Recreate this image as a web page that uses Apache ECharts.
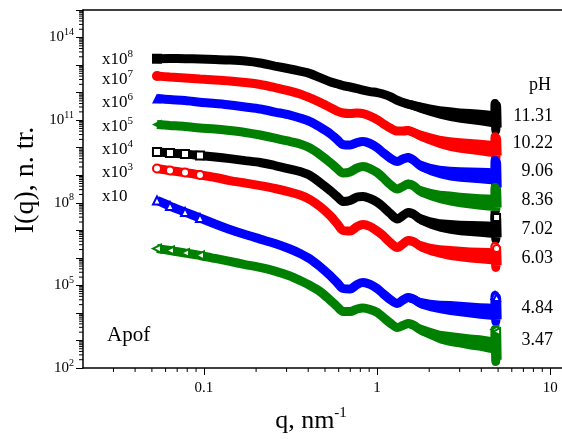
<!DOCTYPE html>
<html>
<head>
<meta charset="utf-8">
<script src="https://cdn.jsdelivr.net/npm/echarts@6/dist/echarts.min.js"></script>
<style>
  html, body { margin: 0; padding: 0; background: #ffffff; }
  #chart { width: 562px; height: 439px; }
</style>
</head>
<body>
<div id="chart"></div>
<script>
// Scattering vector q, nm^-1 (shared by all curves)
const qValues = [
  0.0535, 0.0636, 0.0777, 0.0948, 0.116, 0.141, 0.173, 0.211, 0.257, 0.314,
  0.359, 0.410, 0.468, 0.535, 0.587, 0.636, 0.698, 0.767, 0.830, 0.911,
  1.00, 1.08, 1.19, 1.31, 1.41, 1.51, 1.62, 1.77, 2.03, 2.31,
  2.64, 3.02, 3.45, 3.94, 4.38, 4.75, 4.80, 4.85, 4.90, 4.94
];

// Scaled intensities I(q) for each pH
const iPH1131 = [
  1.70e13, 1.72e13, 1.71e13, 1.66e13, 1.59e13, 1.52e13, 1.40e13, 1.19e13, 9.2e12, 7.2e12,
  6.0e12, 4.9e12, 3.5e12, 2.5e12, 2.1e12, 1.8e12, 1.6e12, 1.4e12, 1.24e12, 1.09e12,
  1.0e12, 8.9e11, 7.2e11, 5.2e11, 4.4e11, 3.8e11, 3.4e11, 2.9e11, 2.3e11, 1.9e11,
  1.67e11, 1.47e11, 1.36e11, 1.25e11, 1.15e11, 1.05e11, 4.0e11, 4.2e10, 3.4e11, 5.4e10
];
const iPH1022 = [
  4.0e12, 3.68e12, 3.39e12, 3.11e12, 2.86e12, 2.64e12, 2.32e12, 1.97e12, 1.53e12, 1.14e12,
  8.9e11, 6.4e11, 4.4e11, 2.9e11, 2.14e11, 1.82e11, 1.74e11, 1.82e11, 1.74e11, 1.41e11,
  1.05e11, 7.6e10, 5.2e10, 4.0e10, 4.0e10, 4.2e10, 3.6e10, 2.77e10, 2.07e10, 1.61e10,
  1.36e10, 1.20e10, 1.10e10, 1.01e10, 9.3e9, 8.9e9, 2.5e10, 3.7e9, 2.15e10, 5.2e9
];
const iPH906 = [
  6.1e11, 5.6e11, 5.2e11, 4.5e11, 4.0e11, 3.54e11, 3.0e11, 2.54e11, 1.97e11, 1.53e11,
  1.19e11, 8.9e10, 5.6e10, 3.27e10, 1.98e10, 1.30e10, 1.25e10, 1.54e10, 1.67e10, 1.42e10,
  1.01e10, 6.7e9, 4.2e9, 3.15e9, 3.9e9, 4.4e9, 3.56e9, 2.25e9, 1.61e9, 1.31e9,
  1.15e9, 1.06e9, 1.02e9, 9.8e8, 9.4e8, 9.0e8, 3.4e9, 3.0e8, 2.9e9, 3.6e8
];
const iPH836 = [
  6.9e10, 6.4e10, 5.9e10, 5.2e10, 4.8e10, 4.2e10, 3.56e10, 2.88e10, 2.24e10, 1.67e10,
  1.36e10, 9.7e9, 5.6e9, 2.9e9, 1.75e9, 1.20e9, 1.31e9, 1.83e9, 2.07e9, 1.75e9,
  1.25e9, 8.3e8, 4.6e8, 3.16e8, 3.9e8, 4.8e8, 4.2e8, 2.67e8, 2.0e8, 1.62e8,
  1.43e8, 1.26e8, 1.16e8, 1.06e8, 1.02e8, 9.8e7, 3.6e8, 5.7e7, 3.0e8, 6.7e7
];
const iPH702 = [
  7.0e9, 6.4e9, 5.9e9, 5.2e9, 4.6e9, 4.0e9, 3.4e9, 2.9e9, 2.25e9, 1.68e9,
  1.36e9, 9.8e8, 5.4e8, 2.8e8, 1.69e8, 1.11e8, 1.21e8, 1.62e8, 1.69e8, 1.43e8,
  1.06e8, 7.3e7, 4.1e7, 2.57e7, 3.44e7, 4.4e7, 3.9e7, 2.57e7, 1.84e7, 1.49e7,
  1.32e7, 1.21e7, 1.16e7, 1.11e7, 1.07e7, 1.03e7, 3.44e7, 4.6e6, 2.9e7, 5.5e6
];
const iPH603 = [
  1.75e9, 1.48e9, 1.25e9, 1.02e9, 8.3e8, 6.4e8, 5.2e8, 4.2e8, 3.3e8, 2.45e8,
  1.91e8, 1.31e8, 7.3e7, 3.44e7, 1.77e7, 9.8e6, 9.4e6, 1.37e7, 1.62e7, 1.37e7,
  9.4e6, 6.5e6, 3.6e6, 2.37e6, 3.2e6, 4.3e6, 3.9e6, 2.7e6, 2.0e6, 1.70e6,
  1.50e6, 1.38e6, 1.27e6, 1.22e6, 1.16e6, 1.12e6, 2.58e6, 4.5e5, 2.18e6, 5.3e5
];
const iPH484 = [
  1.21e8, 7.6e7, 4.6e7, 2.79e7, 1.69e7, 1.07e7, 7.0e6, 4.8e6, 3.3e6, 2.09e6,
  1.44e6, 9.1e5, 4.8e5, 2.28e5, 1.27e5, 7.7e4, 7.4e4, 1.08e5, 1.27e5, 1.08e5,
  7.7e4, 5.1e4, 3.07e4, 2.2e4, 2.94e4, 3.6e4, 3.2e4, 2.29e4, 1.86e4, 1.64e4,
  1.51e4, 1.39e4, 1.28e4, 1.17e4, 1.12e4, 1.08e4, 4.3e4, 4.9e3, 3.6e4, 5.8e3
];
const iPH347 = [
  2.18e6, 1.85e6, 1.50e6, 1.22e6, 9.5e5, 7.4e5, 5.7e5, 4.5e5, 3.3e5, 2.19e5,
  1.50e5, 9.9e4, 6.0e4, 2.94e4, 1.71e4, 1.12e4, 1.12e4, 1.39e4, 1.51e4, 1.33e4,
  1.04e4, 7.1e3, 4.3e3, 2.95e3, 3.5e3, 4.1e3, 3.6e3, 2.5e3, 1.79e3, 1.33e3,
  1.13e3, 1.0e3, 8.8e2, 8.1e2, 7.1e2, 6.6e2, 2.5e3, 1.72e2, 2.1e3, 2.0e2
];

// Half-width of the point scatter at high q, in decades of I (null = negligible)
const scatterHalfWidth = [
  null, null, null, null, null, null, null, null, null, null,
  null, null, null, null, null, null, null, null, null, null,
  null, null, null, null, 0.15, 0.16, 0.17, 0.19, 0.21, 0.23,
  0.25, 0.26, 0.27, 0.28, 0.29, 0.29
];

// Labels
const phLabels = ['11.31', '10.22', '9.06', '8.36', '7.02', '6.03', '4.84', '3.47'];
const scaleExponents = ['8', '7', '6', '5', '4', '3', ''];
const sampleName = 'Apof';

// ---- styling / layout ----
const SERIF = '"Liberation Serif", "Times New Roman", serif';
const X_MIN = 0.02, X_MAX = 11.7, Y_MIN = 1e2, Y_MAX = 1e15;

const curveStyles = [
  { data: iPH1131, color: '#000000', symbol: 'rect',     rotate: 0,  open: false },
  { data: iPH1022, color: '#ff0000', symbol: 'circle',   rotate: 0,  open: false },
  { data: iPH906,  color: '#0000ff', symbol: 'triangle', rotate: 0,  open: false },
  { data: iPH836,  color: '#008000', symbol: 'triangle', rotate: 90, open: false },
  { data: iPH702,  color: '#000000', symbol: 'rect',     rotate: 0,  open: true },
  { data: iPH603,  color: '#ff0000', symbol: 'circle',   rotate: 0,  open: true },
  { data: iPH484,  color: '#0000ff', symbol: 'triangle', rotate: 0,  open: true },
  { data: iPH347,  color: '#008000', symbol: 'triangle', rotate: 90, open: true }
];

const scaleLabelY = [60, 80, 103, 127, 150, 173, 197];
const phLabelY = [116, 143.5, 171, 200, 229.5, 258, 308.5, 340];

function emptyName(sym) {
  return 'empty' + sym.charAt(0).toUpperCase() + sym.slice(1);
}

function curveSeries(st, i) {
  const n = st.data.length;
  const data = st.data.map(function (v, k) {
    const item = { value: [qValues[k], v] };
    if (st.open) {
      // hollow markers stay visible only where the band is sparse
      if (k < 4) { item.symbol = emptyName(st.symbol); }
      else if (k === n - 4 || k === n - 2) { item.symbol = emptyName(st.symbol); item.symbolSize = 7; }
      else { item.symbol = 'none'; }
    } else if (k > 0) {
      item.symbol = 'none';
    }
    return item;
  });
  return {
    name: phLabels[i],
    type: 'line',
    data: data,
    smooth: 0.3,
    symbol: st.symbol,
    symbolRotate: st.rotate,
    symbolSize: st.open ? 8 : 10,
    showAllSymbol: true,
    color: st.color,
    itemStyle: { color: st.color, borderColor: st.color, borderWidth: st.open ? 1.2 : 0 },
    lineStyle: { color: st.color, width: 9 },
    z: 3
  };
}

// widened band where the measured points scatter
function scatterSeries(st) {
  return {
    type: 'custom',
    silent: true,
    z: 2,
    clip: true,
    data: [[qValues[30], st.data[30]]],
    renderItem: function (params, api) {
      const upper = [], lower = [];
      for (let k = 0; k < scatterHalfWidth.length; k++) {
        const s = scatterHalfWidth[k];
        if (s == null) continue;
        const f = Math.pow(10, s);
        upper.push(api.coord([qValues[k], st.data[k] * f]));
        lower.push(api.coord([qValues[k], st.data[k] / f]));
      }
      return {
        type: 'polygon',
        shape: { points: upper.concat(lower.reverse()) },
        style: { fill: st.color }
      };
    }
  };
}

// minor ticks at 2..9 x 10^n
function minorValues(lo, hi) {
  const out = [];
  for (let e = Math.floor(Math.log10(lo)); e <= Math.ceil(Math.log10(hi)); e++) {
    for (let m = 2; m <= 9; m++) {
      const v = +(m * Math.pow(10, e)).toPrecision(3);
      if (v > lo * 1.0001 && v < hi * 0.9999) out.push(v);
    }
  }
  return out;
}

function tickSeries(points, dir, len) {
  return {
    type: 'custom',
    silent: true,
    clip: false,
    z: 6,
    data: points,
    renderItem: function (params, api) {
      const p = api.coord([api.value(0), api.value(1)]);
      const shape = dir === 'x'
        ? { x1: p[0], y1: p[1], x2: p[0], y2: p[1] + len }
        : { x1: p[0] - len, y1: p[1], x2: p[0], y2: p[1] };
      return { type: 'line', shape: shape, style: { stroke: '#000', lineWidth: 1 } };
    }
  };
}

const xMinor = minorValues(X_MIN, X_MAX).map(function (v) { return [v, Y_MIN]; });
const yMinor = minorValues(Y_MIN, Y_MAX).map(function (v) { return [X_MIN, v]; });

const graphics = [];
// axis titles
graphics.push({
  type: 'text', x: 26, y: 180, rotation: Math.PI / 2,
  style: { text: 'I(q), n. tr.', font: '28px ' + SERIF, fill: '#000', align: 'center', verticalAlign: 'middle' }
});
graphics.push({
  type: 'text', x: 311, y: 421,
  style: {
    text: 'q, nm{s|-1}', font: '26px ' + SERIF, fill: '#000', align: 'center', verticalAlign: 'middle',
    lineHeight: 30,
    rich: { s: { font: '15px ' + SERIF, fill: '#000', lineHeight: 14, verticalAlign: 'top' } }
  }
});
// scale-factor annotations
scaleExponents.forEach(function (e, i) {
  graphics.push({
    type: 'text', x: 102, y: scaleLabelY[i],
    style: {
      text: e ? 'x10{s|' + e + '}' : 'x10', font: '17px ' + SERIF, fill: '#000',
      align: 'left', verticalAlign: 'middle', lineHeight: 22,
      rich: { s: { font: '11px ' + SERIF, fill: '#000', lineHeight: 10, verticalAlign: 'top' } }
    }
  });
});
// pH column
graphics.push({
  type: 'text', x: 551, y: 85,
  style: { text: 'pH', font: '18px ' + SERIF, fill: '#000', align: 'right', verticalAlign: 'middle' }
});
phLabels.forEach(function (t, i) {
  graphics.push({
    type: 'text', x: 553, y: phLabelY[i],
    style: { text: t, font: '18px ' + SERIF, fill: '#000', align: 'right', verticalAlign: 'middle' }
  });
});
graphics.push({
  type: 'text', x: 107, y: 335,
  style: { text: sampleName, font: '21px ' + SERIF, fill: '#000', align: 'left', verticalAlign: 'middle' }
});

const chart = echarts.init(document.getElementById('chart'), null, { renderer: 'canvas' });
chart.setOption({
  animation: false,
  backgroundColor: '#ffffff',
  grid: { left: 83, top: 10, right: 0, bottom: 71, containLabel: false },
  xAxis: [{
    type: 'log', logBase: 10, min: X_MIN, max: X_MAX,
    axisLine: { lineStyle: { color: '#000', width: 1.5 } },
    axisTick: { inside: false, length: 7, lineStyle: { color: '#000', width: 1 } },
    axisLabel: {
      color: '#000', fontFamily: SERIF, fontSize: 15, margin: 13,
      showMinLabel: false, showMaxLabel: false,
      formatter: function (v) { return String(+(+v).toPrecision(3)); }
    },
    splitLine: { show: false }
  }, {
    type: 'log', logBase: 10, min: X_MIN, max: X_MAX, position: 'top',
    axisLine: { onZero: false, lineStyle: { color: '#000', width: 1.5 } },
    axisTick: { show: false }, axisLabel: { show: false }, splitLine: { show: false }
  }],
  yAxis: {
    type: 'log', logBase: 10, min: Y_MIN, max: Y_MAX, interval: 1,
    axisLine: { show: true, lineStyle: { color: '#000', width: 1.5 } },
    axisTick: { show: true, inside: false, length: 7, lineStyle: { color: '#000', width: 1 } },
    axisLabel: {
      color: '#000', margin: 9,
      formatter: function (v) {
        const e = Math.round(Math.log10(v));
        return ((e - 2) % 3 === 0) ? '{b|10}{s|' + e + '}' : '';
      },
      rich: {
        b: { fontFamily: SERIF, fontSize: 15, lineHeight: 20, color: '#000' },
        s: { fontFamily: SERIF, fontSize: 10, lineHeight: 9, verticalAlign: 'top', color: '#000' }
      }
    },
    splitLine: { show: false }
  },
  series: curveStyles.map(scatterSeries)
    .concat(curveStyles.map(curveSeries))
    .concat([tickSeries(xMinor, 'x', 4), tickSeries(yMinor, 'y', 4)]),
  graphic: graphics
});
</script>
</body>
</html>
